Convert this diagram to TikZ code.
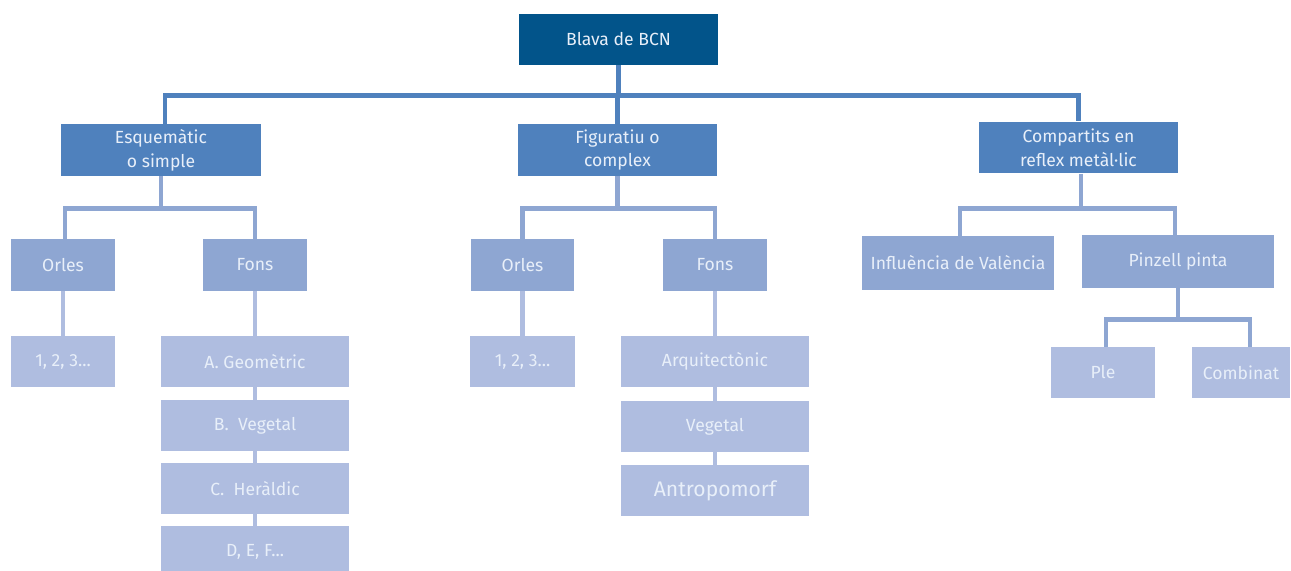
\documentclass[tikz,border=0pt]{standalone}
\usepackage{fontspec}
\setmainfont{Fira Sans}
\usepackage{tikz}
\usetikzlibrary{calc}
\usepackage{xcolor}
\definecolor{bcndark}{RGB}{2,84,138}
\definecolor{bcnmid}{RGB}{79,129,189}
\definecolor{bcnlight}{RGB}{142,166,210}
\definecolor{bcnpale}{RGB}{175,189,224}
\definecolor{bcntext}{RGB}{232,239,249}

\begin{document}
\begin{tikzpicture}[x=0.02cm, y=-0.02cm, font=\fontsize{10}{13.5}\selectfont,
    root/.style={rectangle, fill=bcndark, text=bcntext, minimum width=3.98cm, minimum height=1.02cm, inner sep=0pt, align=center},
    branch/.style={rectangle, fill=bcnmid, text=bcntext, minimum width=4cm, minimum height=1.04cm, inner sep=0pt, align=center},
    group/.style={rectangle, fill=bcnlight, text=bcntext, minimum width=2.08cm, minimum height=1.04cm, inner sep=0pt, align=center},
    leaf/.style={rectangle, fill=bcnpale, text=bcntext, minimum width=3.76cm, minimum height=1.02cm, inner sep=0pt, align=center},
    lk0/.style={draw=bcnmid, line width=2.8pt},
    lk1/.style={draw=bcnlight, line width=2.8pt},
    lk2/.style={draw=bcnpale, line width=2.8pt}
]
\useasboundingbox (0,0) rectangle (1291,571);

\node[root] (top) at (618.5,39.5) {Blava de BCN};

\node[branch] (esq) at (161,150) {Esquemàtic\\o simple};
\node[branch] (fig) at (617.5,150) {Figuratiu o\\complex};
\node[branch] (comp) at (1078.5,147.5) {Compartits en\\reflex metàl·lic};

\node[group] (orl1) at (63,265) {Orles};
\node[group] (fon1) at (255,265) {Fons};
\node[group] (orl2) at (522.5,265) {Orles};
\node[group] (fon2) at (715,265) {Fons};
\node[group, minimum width=3.84cm, minimum height=1.08cm] (infl) at (958,263) {Influència de València};
\node[group, minimum width=3.84cm, minimum height=1.06cm] (pinz) at (1178,261.5) {Pinzell pinta};

\node[leaf, minimum width=2.08cm] (num1) at (63,361.5) {1, 2, 3...};
\node[leaf] (geo) at (255,361.5) {A. Geomètric};
\node[leaf] (veg1) at (255,425.5) {B.\ \ Vegetal};
\node[leaf] (her) at (255,488.5) {C.\ \ Heràldic};
\node[leaf] (def) at (255,551.5) {D, E, F...};

\node[leaf, minimum width=2.1cm] (num2) at (522.5,361.5) {1, 2, 3...};
\node[leaf] (arq) at (715,361.5) {Arquitectònic};
\node[leaf] (veg2) at (715,426.5) {Vegetal};
\node[leaf, font=\fontsize{12}{13}\selectfont] (ant) at (715,490.5) {Antropomorf};

\node[leaf, minimum width=2.08cm] (ple) at (1103,372.5) {Ple};
\node[leaf, minimum width=1.96cm] (comb) at (1241,372.5) {Combinat};

\draw[lk0] (top.south) -- ++(0,30) -| ([xshift=0.08cm]esq.north);
\draw[lk0] (top.south) -- ++(0,30) -| (fig.north);
\draw[lk0] (top.south) -- ++(0,30) -| (comp.north);

\draw[lk1] (esq.south) -- ++(0,32) -| ([xshift=0.04cm]orl1.north);
\draw[lk1] (esq.south) -- ++(0,32) -| (fon1.north);
\draw[lk1] (fig.south) -- ++(0,32) -| (orl2.north);
\draw[lk1] (fig.south) -- ++(0,32) -| (fon2.north);
\draw[lk1] ([xshift=0.05cm]comp.south) -- ++(0,35) -| ([xshift=0.04cm]infl.north);
\draw[lk1] ([xshift=0.05cm]comp.south) -- ++(0,35) -| ([xshift=-0.06cm]pinz.north);
\draw[lk1] (pinz.south) -- ++(0,31) -| ([xshift=0.06cm]ple.north);
\draw[lk1] (pinz.south) -- ++(0,31) -| ([xshift=0.18cm]comb.north);

\draw[lk2] (orl1) -- (num1);
\draw[lk2] (fon1) -- (geo);
\draw[lk2] (geo) -- (veg1);
\draw[lk2] (veg1) -- (her);
\draw[lk2] (her) -- (def);
\draw[lk2] (orl2) -- (num2);
\draw[lk2] (fon2) -- (arq);
\draw[lk2] (arq) -- (veg2);
\draw[lk2] (veg2) -- (ant);
\end{tikzpicture}
\end{document}
